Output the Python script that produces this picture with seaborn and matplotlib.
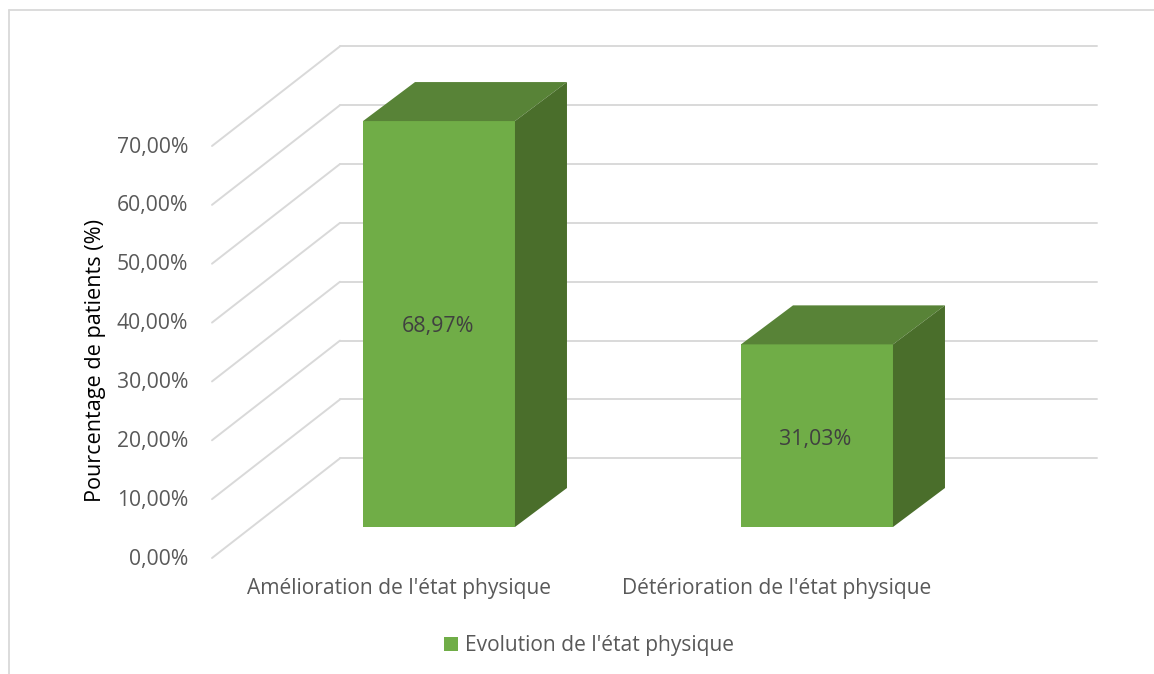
import matplotlib
matplotlib.use("Agg")
import matplotlib.pyplot as plt
import pandas as pd
import seaborn as sns
from matplotlib.lines import Line2D
from matplotlib.patches import Polygon
from matplotlib.transforms import Affine2D, IdentityTransform

# values
categories = ["Amélioration de l'état physique", "Détérioration de l'état physique"]
values = [68.97, 31.03]
value_labels = ["68,97%", "31,03%"]
series_name = "Evolution de l'état physique"
y_ticks = [0, 10, 20, 30, 40, 50, 60, 70]
y_tick_labels = ["0,00%", "10,00%", "20,00%", "30,00%", "40,00%", "50,00%", "60,00%", "70,00%"]

W, H = 1154, 674
FRONT = "#70AD47"
TOP = "#588337"
SIDE = "#4A6E2B"
GRID = "#D9D9D9"
TEXT = "#595959"

sns.set_theme(style="white")
plt.rcParams["font.family"] = ["Open Sans", "DejaVu Sans"]

fig = plt.figure(figsize=(W / 100, H / 100), dpi=100)
ax = fig.add_axes([250 / W, (H - 527) / H, 756 / W, 412 / H])
ax.patch.set_alpha(0)

df = pd.DataFrame({"cat": categories, "val": values, "serie": series_name})
sns.barplot(data=df, x="cat", y="val", hue="serie", palette=[FRONT], width=0.402,
            saturation=1, linewidth=0, ax=ax, zorder=3)
ax.set_xlim(-0.5, 1.5)
ax.set_ylim(0, 70)
sns.despine(ax=ax, left=True, bottom=True)
fig.canvas.draw()

# fake 3d walls, offsets in pixels from the plane of the bars
ident = IdentityTransform()
for v in y_ticks:
    py = ax.transData.transform((0, v))[1]
    ax.add_line(Line2D([340, 1097], [py + 68.7, py + 68.7], color=GRID, lw=1.4,
                       transform=ident, zorder=1, clip_on=False))
    ax.add_line(Line2D([212, 340], [py - 31, py + 68.7], color=GRID, lw=1.4,
                       transform=ident, zorder=1, clip_on=False))

# top and side faces from the bars seaborn drew
dx, dy = 52, 39
bars = ax.containers[0]
for bar in bars:
    x0, y0 = ax.transData.transform((bar.get_x(), 0))
    x1, y1 = ax.transData.transform((bar.get_x() + bar.get_width(), bar.get_height()))
    ax.add_patch(Polygon([(x0, y1), (x1, y1), (x1 + dx, y1 + dy), (x0 + dx, y1 + dy)],
                         facecolor=TOP, edgecolor="none", transform=ident, zorder=3, clip_on=False))
    ax.add_patch(Polygon([(x1, y0), (x1 + dx, y0 + dy), (x1 + dx, y1 + dy), (x1, y1)],
                         facecolor=SIDE, edgecolor="none", transform=ident, zorder=3, clip_on=False))

val_texts = ax.bar_label(bars, labels=value_labels, label_type="center", color="#404040",
                         fontsize=15.4, zorder=4)
val_texts[0].xyann = (-0.5, -2)
val_texts[1].xyann = (-1.3, -2.8)

ax.set_yticks(y_ticks)
ax.set_yticklabels(y_tick_labels)
ax.tick_params(axis="y", length=0, pad=44.6, labelsize=15.2, labelcolor=TEXT)
ax.tick_params(axis="x", length=0, pad=37, labelsize=15.1, labelcolor=TEXT)
for lab in ax.get_yticklabels():
    lab.set_transform(lab.get_transform() + Affine2D().translate(0, -29.5))
for lab in ax.get_xticklabels():
    lab.set_transform(lab.get_transform() + Affine2D().translate(-40, 0))

ax.set_xlabel("")
ax.set_ylabel("Pourcentage de patients (%)", fontsize=15.6, color="black")
ax.yaxis.set_label_coords((96 - 250) / 756, (527 - 361) / 412)
ax.yaxis.label.set_verticalalignment("center")

sns.move_legend(ax, "center", bbox_to_anchor=(589 / W, (H - 646) / H),
                bbox_transform=fig.transFigure, ncol=1, title=None, frameon=False,
                fontsize=15.1, labelcolor=TEXT, handlelength=0.67, handleheight=0.67,
                handletextpad=0.35, borderpad=0)

# outer chart frame, only top and left are in the crop
fig.add_artist(Line2D([9 / W, 9 / W], [0, 1 - 10 / H], color=GRID, lw=1.3))
fig.add_artist(Line2D([9 / W, 1], [1 - 10 / H, 1 - 10 / H], color=GRID, lw=1.3))

fig.savefig("out.png", dpi=100)
plt.close(fig)
